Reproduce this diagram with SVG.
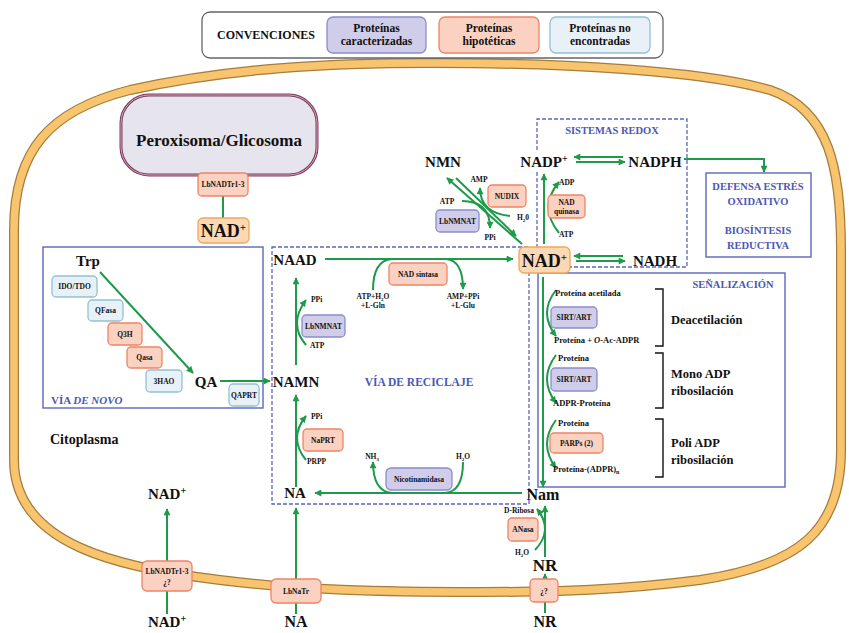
<svg xmlns="http://www.w3.org/2000/svg" width="849" height="633" viewBox="0 0 849 633">
  <defs>
    <marker id="ah" viewBox="0 0 10 10" refX="9" refY="5" markerWidth="8" markerHeight="7" markerUnits="userSpaceOnUse" orient="auto">
      <path d="M0,0 L10,5 L0,10 z" fill="#1E9A4A"/>
    </marker>
    <style>
      text { font-family: "Liberation Serif", "Times New Roman", serif; font-weight: bold; fill: #111; }
      .big { font-size: 15px; }
      .nad { font-size: 18px; }
      .sm { font-size: 7.5px; }
      .lbl { font-size: 8.5px; }
      .box { font-size: 7.5px; }
      .blue { fill: #4B58B2; font-size: 10.5px; }
      .leg { font-size: 11.5px; }
      .ln { stroke: #1E9A4A; stroke-width: 2; fill: none; }
      .arr { marker-end: url(#ah); }
      .lav { fill: #CFCDEA; stroke: #8C8CCB; stroke-width: 1.3; }
      .sal { fill: #FBD2C1; stroke: #EE8466; stroke-width: 1.3; }
      .lbl-blue { fill: #E7F1F7; stroke: #93C1D4; stroke-width: 1.3; }
      .nadbox { fill: #FCD9B2; stroke: #F0A660; stroke-width: 1.3; }
      .dash { fill: none; stroke: #5A67BD; stroke-width: 1.3; stroke-dasharray: 4 2; }
      .solid { fill: none; stroke: #5A67BD; stroke-width: 1.4; }
      .brk { fill: none; stroke: #111; stroke-width: 1.4; }
    </style>
  </defs>

  <rect width="849" height="633" fill="#fff"/>

  <!-- cell membrane -->
  <g id="membrane">
    <path d="M 14,330 L 14,230 C 14,150 50,110 130,90 C 230,68 330,63 430,63 C 560,63 700,70 770,90 C 830,110 841,170 841,250 L 841,450 C 841,530 800,565 700,580 C 620,590 560,592 480,592 C 380,592 300,590 220,580 C 120,568 14,545 14,460 Z" fill="#fff" stroke="#A47C3C" stroke-width="10"/>
    <path d="M 14,330 L 14,230 C 14,150 50,110 130,90 C 230,68 330,63 430,63 C 560,63 700,70 770,90 C 830,110 841,170 841,250 L 841,450 C 841,530 800,565 700,580 C 620,590 560,592 480,592 C 380,592 300,590 220,580 C 120,568 14,545 14,460 Z" fill="none" stroke="#F9C46E" stroke-width="7.5"/>
  </g>

  <!-- legend -->
  <g id="legend">
    <rect x="202" y="12" width="461" height="46" rx="8" fill="#fff" stroke="#666" stroke-width="1.3"/>
    <text x="217" y="39" style="font-size:12px">CONVENCIONES</text>
    <rect x="327" y="17" width="99" height="36" rx="6" class="lav"/>
    <text x="376.5" y="32" class="leg" text-anchor="middle">Proteínas</text>
    <text x="376.5" y="45" class="leg" text-anchor="middle">caracterizadas</text>
    <rect x="439" y="17" width="100" height="36" rx="6" class="sal"/>
    <text x="489" y="32" class="leg" text-anchor="middle">Proteínas</text>
    <text x="489" y="45" class="leg" text-anchor="middle">hipotéticas</text>
    <rect x="550" y="17" width="100" height="36" rx="6" class="lbl-blue"/>
    <text x="600" y="32" class="leg" text-anchor="middle">Proteínas no</text>
    <text x="600" y="45" class="leg" text-anchor="middle">encontradas</text>
  </g>

  <!-- region frames -->
  <g id="frames">
    <rect x="43" y="247" width="220" height="161" class="solid"/>
    <rect x="272" y="247" width="257" height="257" class="dash"/>
    <path d="M 537,150 L 537,119 L 687,119 L 687,267 L 570,267 M 537,172 L 537,247" class="dash"/>
    <rect x="538" y="273" width="247" height="214" class="solid"/>
    <rect x="706" y="173" width="105" height="84" class="solid"/>
  </g>

  <!-- connectors -->
  <g id="connectors">
    <!-- peroxisome import -->
    <path d="M 223,218 L 223,158" class="ln arr"/>
    <!-- de novo -->
    <path d="M 100,272 L 193,373" class="ln arr"/>
    <path d="M 220,381 L 270,381" class="ln arr"/>
    <!-- NAAD to NAD+ with NAD sintasa -->
    <path d="M 325,259 L 513,259" class="ln arr"/>
    <path d="M 373,290 C 373,272 378,260 392,259" class="ln"/>
    <path d="M 446,259 C 458,260 463,272 463,289" class="ln arr"/>
    <!-- NAMN to NAAD -->
    <path d="M 296,365 L 296,278" class="ln arr"/>
    <path d="M 306,345 Q 288,324 306,300" class="ln arr"/>
    <!-- NA to NAMN -->
    <path d="M 296,487 L 296,395" class="ln arr"/>
    <path d="M 306,460 Q 288,438 306,416" class="ln arr"/>
    <!-- Nam to NA with nicotinamidasa -->
    <path d="M 522,493 L 315,493" class="ln arr"/>
    <path d="M 463,462 C 463,482 457,492 445,493" class="ln"/>
    <path d="M 392,493 C 380,492 373,482 373,462" class="ln arr"/>
    <!-- NAD+ to NADP+ with NAD quinasa -->
    <path d="M 544,244 L 544,174" class="ln arr"/>
    <path d="M 559,233 Q 538,207 559,182" class="ln arr"/>
    <!-- NADP+ / NADPH and NAD+ / NADH -->
    <path d="M 623,157 L 574,157" class="ln arr"/>
    <path d="M 576,162 L 625,162" class="ln arr"/>
    <path d="M 623,256 L 574,256" class="ln arr"/>
    <path d="M 576,261 L 625,261" class="ln arr"/>
    <!-- NADPH to defense -->
    <path d="M 684,159 L 764,159 L 764,172" class="ln arr"/>
    <!-- NAD+ / NMN -->
    <path d="M 522,244 L 447,178" class="ln arr"/>
    <path d="M 456,178 L 516,236" class="ln arr"/>
    <path d="M 510,216 C 490,214 480,205 480,188" class="ln arr"/>
    <path d="M 462,201 C 480,201 490,210 490,228" class="ln arr"/>
    <!-- signaling -->
    <path d="M 543,277 L 543,487" class="ln arr"/>
    <path d="M 556,290 Q 538,313 556,336" class="ln arr"/>
    <path d="M 556,355 Q 538,379 556,403" class="ln arr"/>
    <path d="M 556,420 Q 538,444 556,468" class="ln arr"/>
    <!-- NR to Nam with ANasa -->
    <path d="M 545,557 L 545,506" class="ln arr"/>
    <path d="M 535,550 Q 554,530 537,509" class="ln arr"/>
    <!-- membrane transport -->
    <path d="M 545,613 L 545,574" class="ln arr"/>
    <path d="M 296,614 L 296,508" class="ln arr"/>
    <path d="M 167,614 L 167,509" class="ln arr"/>
  </g>

  <!-- peroxisome -->
  <g id="peroxisoma">
    <rect x="121" y="95" width="196" height="80" rx="28" fill="#E6E4EC" stroke="#7A3E5E" stroke-width="3"/>
    <rect x="121" y="95" width="196" height="80" rx="28" fill="none" stroke="#D9A0B8" stroke-width="1"/>
    <text x="219" y="146" text-anchor="middle" style="font-size:17px">Peroxisoma/Glicosoma</text>
  </g>
  <g id="lbnadtr-perox">
    <rect x="198" y="173" width="50" height="23" rx="4" class="sal"/>
    <text x="223" y="187" class="box" text-anchor="middle">LbNADTr1-3</text>
  </g>
  <g id="nad-perox">
    <rect x="198" y="218" width="51" height="25" rx="5" class="nadbox"/>
    <text x="223.5" y="237" class="nad" text-anchor="middle">NAD<tspan dy="-6" style="font-size:11px">+</tspan></text>
  </g>

  <!-- de novo pathway -->
  <g id="trp"><text x="88" y="266" class="big" text-anchor="middle">Trp</text></g>
  <g id="ido"><rect x="52" y="276" width="45" height="21" rx="4" class="lbl-blue"/><text x="74.5" y="289" class="box" text-anchor="middle">IDO/TDO</text></g>
  <g id="qfasa"><rect x="88" y="300" width="35" height="21" rx="4" class="lbl-blue"/><text x="105.5" y="313" class="box" text-anchor="middle">QFasa</text></g>
  <g id="q3h"><rect x="108" y="323" width="34" height="22" rx="4" class="sal"/><text x="125" y="336.5" class="box" text-anchor="middle">Q3H</text></g>
  <g id="qasa"><rect x="127" y="347" width="35" height="21" rx="4" class="sal"/><text x="144.5" y="360" class="box" text-anchor="middle">Qasa</text></g>
  <g id="hao"><rect x="146" y="370" width="36" height="22" rx="4" class="lbl-blue"/><text x="164" y="383.5" class="box" text-anchor="middle">3HAO</text></g>
  <g id="qa"><text x="206" y="387" class="big" text-anchor="middle">QA</text></g>
  <g id="qaprt"><rect x="229" y="384" width="30" height="22" rx="4" class="lbl-blue"/><text x="244" y="397.5" class="box" text-anchor="middle">QAPRT</text></g>
  <text x="51" y="404" class="blue" style="font-size:11px">VÍA <tspan font-style="italic">DE NOVO</tspan></text>

  <text x="50" y="444" style="font-size:14px">Citoplasma</text>

  <!-- recycling pathway -->
  <g id="naad"><text x="295" y="265" class="big" text-anchor="middle">NAAD</text></g>
  <g id="nadsintasa">
    <rect x="389" y="263" width="58" height="22" rx="4" class="sal"/>
    <text x="418" y="276.5" class="box" text-anchor="middle">NAD sintasa</text>
  </g>
  <text x="373" y="299" class="sm" text-anchor="middle">ATP+H<tspan dy="2" style="font-size:5px">2</tspan><tspan dy="-2">O</tspan></text>
  <text x="373" y="308" class="sm" text-anchor="middle">+L-Gln</text>
  <text x="463" y="299" class="sm" text-anchor="middle">AMP+PPi</text>
  <text x="463" y="308" class="sm" text-anchor="middle">+L-Glu</text>
  <g id="lbnmnat-r">
    <rect x="302" y="315" width="43" height="22" rx="4" class="lav"/>
    <text x="323.5" y="328.5" class="box" text-anchor="middle">LbNMNAT</text>
  </g>
  <text x="311" y="302" class="sm">PPi</text>
  <text x="310" y="348" class="sm">ATP</text>
  <g id="namn"><text x="296" y="387" class="big" text-anchor="middle">NAMN</text></g>
  <text x="419" y="386" class="blue" style="font-size:11.5px" text-anchor="middle">VÍA DE RECICLAJE</text>
  <g id="naprt">
    <rect x="303" y="429" width="40" height="22" rx="4" class="sal"/>
    <text x="323" y="442.5" class="box" text-anchor="middle">NaPRT</text>
  </g>
  <text x="311" y="419" class="sm">PPi</text>
  <text x="307" y="464" class="sm">PRPP</text>
  <g id="na"><text x="295" y="498" class="big" text-anchor="middle">NA</text></g>
  <g id="nicotinamidasa">
    <rect x="386" y="468" width="66" height="22" rx="5" class="lav"/>
    <text x="419" y="481.5" class="box" text-anchor="middle">Nicotinamidasa</text>
  </g>
  <text x="372" y="459" class="sm" text-anchor="middle">NH<tspan dy="2" style="font-size:5px">3</tspan></text>
  <text x="463" y="459" class="sm" text-anchor="middle">H<tspan dy="2" style="font-size:5px">2</tspan><tspan dy="-2">O</tspan></text>

  <!-- central NAD+ and redox -->
  <g id="nad-main">
    <rect x="519" y="247" width="51" height="26" rx="5" class="nadbox"/>
    <text x="544.5" y="267" class="nad" text-anchor="middle">NAD<tspan dy="-6" style="font-size:11px">+</tspan></text>
  </g>
  <g id="nmn"><text x="443" y="167" class="big" text-anchor="middle">NMN</text></g>
  <g id="nudix">
    <rect x="488" y="185" width="38" height="22" rx="4" class="sal"/>
    <text x="507" y="198.5" class="box" text-anchor="middle">NUDIX</text>
  </g>
  <g id="lbnmnat-n">
    <rect x="436" y="210" width="43" height="22" rx="4" class="lav"/>
    <text x="457.5" y="223.5" class="box" text-anchor="middle">LbNMNAT</text>
  </g>
  <text x="479" y="182" class="sm" text-anchor="middle">AMP</text>
  <text x="447" y="204" class="sm" text-anchor="middle">ATP</text>
  <text x="490" y="240" class="sm" text-anchor="middle">PPi</text>
  <text x="517" y="220" class="sm">H<tspan dy="2" style="font-size:5px">2</tspan><tspan dy="-2">0</tspan></text>
  <g id="nadp"><text x="544" y="167" class="big" text-anchor="middle">NADP<tspan dy="-5" style="font-size:10px">+</tspan></text></g>
  <g id="nadph"><text x="655" y="167" class="big" text-anchor="middle">NADPH</text></g>
  <g id="nadh"><text x="655" y="266" class="big" text-anchor="middle">NADH</text></g>
  <g id="nadquinasa">
    <rect x="548" y="195" width="37" height="23" rx="4" class="sal"/>
    <text x="566.5" y="205" class="box" text-anchor="middle">NAD</text>
    <text x="566.5" y="214" class="box" text-anchor="middle">quinasa</text>
  </g>
  <text x="559" y="185" class="sm">ADP</text>
  <text x="559" y="237" class="sm">ATP</text>
  <text x="612" y="134" class="blue" text-anchor="middle">SISTEMAS REDOX</text>
  <g id="defensa">
    <text x="758" y="190" class="blue" text-anchor="middle">DEFENSA ESTRÉS</text>
    <text x="758" y="205" class="blue" text-anchor="middle">OXIDATIVO</text>
    <text x="758" y="234" class="blue" text-anchor="middle">BIOSÍNTESIS</text>
    <text x="758" y="249" class="blue" text-anchor="middle">REDUCTIVA</text>
  </g>

  <!-- signaling -->
  <text x="733" y="288" class="blue" text-anchor="middle">SEÑALIZACIÓN</text>
  <text x="555" y="296" class="lbl">Proteína acetilada</text>
  <g id="sirt1">
    <rect x="551" y="307" width="46" height="21" rx="4" class="lav"/>
    <text x="574" y="320" class="box" text-anchor="middle">SIRT/ART</text>
  </g>
  <text x="554" y="343" class="lbl">Proteína + <tspan font-style="italic">O</tspan>-Ac-ADPR</text>
  <path d="M 655,289 L 663,289 L 663,346 L 655,346" class="brk"/>
  <text x="671" y="324" style="font-size:12.5px">Deacetilación</text>

  <text x="558" y="361" class="lbl">Proteína</text>
  <g id="sirt2">
    <rect x="551" y="368" width="46" height="23" rx="4" class="lav"/>
    <text x="574" y="382" class="box" text-anchor="middle">SIRT/ART</text>
  </g>
  <text x="553" y="406" class="lbl">ADPR-Proteína</text>
  <path d="M 655,353 L 663,353 L 663,408 L 655,408" class="brk"/>
  <text x="671" y="378" style="font-size:12.5px">Mono ADP</text>
  <text x="671" y="395" style="font-size:12.5px">ribosilación</text>

  <text x="558" y="426" class="lbl">Proteína</text>
  <g id="parps">
    <rect x="550" y="433" width="53" height="20" rx="4" class="sal"/>
    <text x="576.5" y="446" class="box" text-anchor="middle">PARPs (2)</text>
  </g>
  <text x="553" y="472" class="lbl">Proteína-(ADPR)<tspan dy="2" style="font-size:6px">n</tspan></text>
  <path d="M 655,419 L 663,419 L 663,477 L 655,477" class="brk"/>
  <text x="671" y="447" style="font-size:12.5px">Poli ADP</text>
  <text x="671" y="464" style="font-size:12.5px">ribosilación</text>

  <!-- Nam / NR -->
  <g id="nam"><text x="543" y="500" style="font-size:16px" text-anchor="middle">Nam</text></g>
  <g id="anasa">
    <rect x="508" y="518" width="30" height="23" rx="4" class="sal"/>
    <text x="523" y="532" class="box" text-anchor="middle">ANasa</text>
  </g>
  <text x="534" y="513" class="sm" text-anchor="end">D-Ribosa</text>
  <text x="522" y="555" class="sm" text-anchor="middle">H<tspan dy="2" style="font-size:5px">2</tspan><tspan dy="-2">O</tspan></text>
  <g id="nr-in"><text x="545" y="571" style="font-size:17px" text-anchor="middle">NR</text></g>
  <g id="nr-tr">
    <rect x="530" y="579" width="28" height="23" rx="4" class="sal"/>
    <text x="544" y="594" class="box" text-anchor="middle">¿?</text>
  </g>
  <g id="nr-out"><text x="545" y="627" style="font-size:16px" text-anchor="middle">NR</text></g>

  <!-- NA transport -->
  <g id="lbnatr">
    <rect x="271" y="579" width="50" height="24" rx="5" class="sal"/>
    <text x="296" y="594" class="box" text-anchor="middle">LbNaTr</text>
  </g>
  <g id="na-out"><text x="296" y="627" style="font-size:16px" text-anchor="middle">NA</text></g>

  <!-- NAD+ transport -->
  <g id="nad-in"><text x="167" y="499" style="font-size:15px" text-anchor="middle">NAD<tspan dy="-5" style="font-size:10px">+</tspan></text></g>
  <g id="lbnadtr-mem">
    <rect x="142" y="561" width="50" height="30" rx="5" class="sal"/>
    <text x="167" y="574" class="box" text-anchor="middle">LbNADTr1-3</text>
    <text x="167" y="585" class="box" text-anchor="middle">¿?</text>
  </g>
  <g id="nad-out"><text x="167" y="627" style="font-size:15px" text-anchor="middle">NAD<tspan dy="-5" style="font-size:10px">+</tspan></text></g>
</svg>
